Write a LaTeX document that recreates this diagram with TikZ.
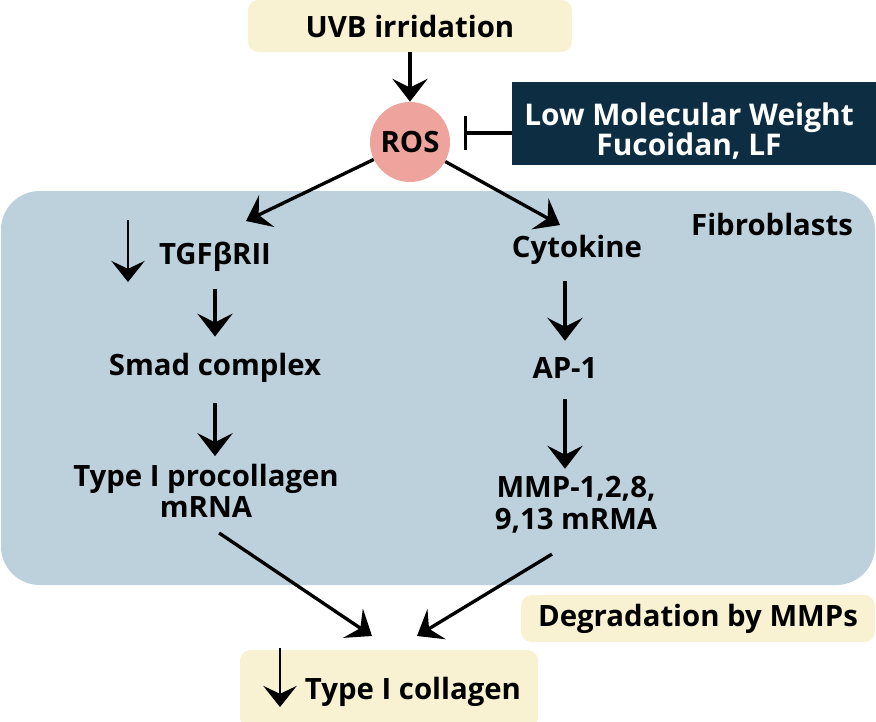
\documentclass[tikz,border=0pt]{standalone}
\usepackage{fontspec}
\setmainfont{Open Sans}
\usepackage{tikz}
\usetikzlibrary{arrows.meta}

\definecolor{beige}{HTML}{F8F1D2}
\definecolor{fibro}{HTML}{BDD1DD}
\definecolor{navy}{HTML}{0D2E42}
\definecolor{rosred}{HTML}{EEA49D}

\begin{document}
\begin{tikzpicture}[x=0.02cm, y=-0.02cm,
	font=\bfseries\fontsize{16.7}{18}\selectfont,
	arr/.style={-{Stealth[length=13pt, width=20pt, inset=5pt]}, line width=1.9pt},
	thinarr/.style={-{Stealth[length=12pt, width=19pt, inset=4.5pt]}, line width=1.3pt},
	beigebox/.style={fill=beige, rounded corners=6pt}]
	\useasboundingbox (0,0) rectangle (876,721);

	% cell area
	\fill[fibro, rounded corners=22pt] (1,191) rectangle (875,585);
	\node[anchor=center] (fib) at (772,224) {Fibroblasts};

	\node[beigebox, minimum width=6.48cm, minimum height=1.04cm] (uvb) at (410,26) {UVB irridation};
	\node[circle, fill=rosred, minimum size=1.6cm, inner sep=0pt] (ros) at (410,142) {ROS};
	\node[fill=navy, minimum width=7.28cm, minimum height=1.66cm] (lf) at (694,123.5) {};
	\node[text=white, align=center, font=\bfseries\fontsize{17}{17}\selectfont] (lftext) at (689,131) {Low Molecular Weight\\Fucoidan, LF};

	\draw[arr] (uvb.south) -- (ros.north);
	\coordinate (inh) at (464,133);
	\draw[line width=1.9pt, -{Bar[width=19pt]}] (lf.west |- inh) -- (inh);

	% left branch
	\node (tgf) at (215,257) {TGFβRII};
	\node (smad) at (215,368) {Smad complex};
	\node[align=center] (proc) at (206,491) {Type I procollagen\\mRNA};
	\coordinate (tgfin) at (246,221);
	\draw[arr] (ros) -- (tgfin);
	\coordinate (tgfdn1) at (128,220);
	\coordinate (tgfdn2) at (128,282);
	\draw[thinarr] (tgfdn1) -- (tgfdn2);
	\draw[arr, shorten <=6pt, shorten >=6pt] (tgf.south) -- (smad.north);
	\draw[arr, shorten <=8pt, shorten >=1pt] (smad.south) -- (proc.north -| smad);

	% right branch
	\node (cyt) at (577,250) {Cytokine};
	\node (ap) at (565,368) {AP-1};
	\node[align=center] (mmp) at (576,505) {MMP-1,2,8,\\9,13 mRMA};
	\coordinate (cytin) at (560,225);
	\draw[arr] (ros) -- (cytin);
	\draw[arr, shorten <=6pt, shorten >=6pt] (cyt.south -| ap) -- (ap.north);
	\draw[arr, shorten <=8pt, shorten >=1pt] (ap.south) -- (mmp.north -| ap);

	% bottom
	\node[beigebox, minimum width=7.08cm, minimum height=0.94cm] (deg) at (698,618.5) {Degradation by MMPs};
	\node[beigebox, minimum width=5.96cm, minimum height=1.56cm] (colbox) at (389,689) {};
	\node (col) at (413,692) {Type I collagen};
	\coordinate (colin1) at (372,636);
	\coordinate (colin2) at (417,636);
	\draw[arr, shorten <=9pt] (proc.south) -- (colin1);
	\draw[arr, shorten <=16pt] (mmp.south) -- (colin2);
	\coordinate (coldn1) at (280,648);
	\coordinate (coldn2) at (280,707);
	\draw[thinarr] (coldn1) -- (coldn2);
\end{tikzpicture}
\end{document}
